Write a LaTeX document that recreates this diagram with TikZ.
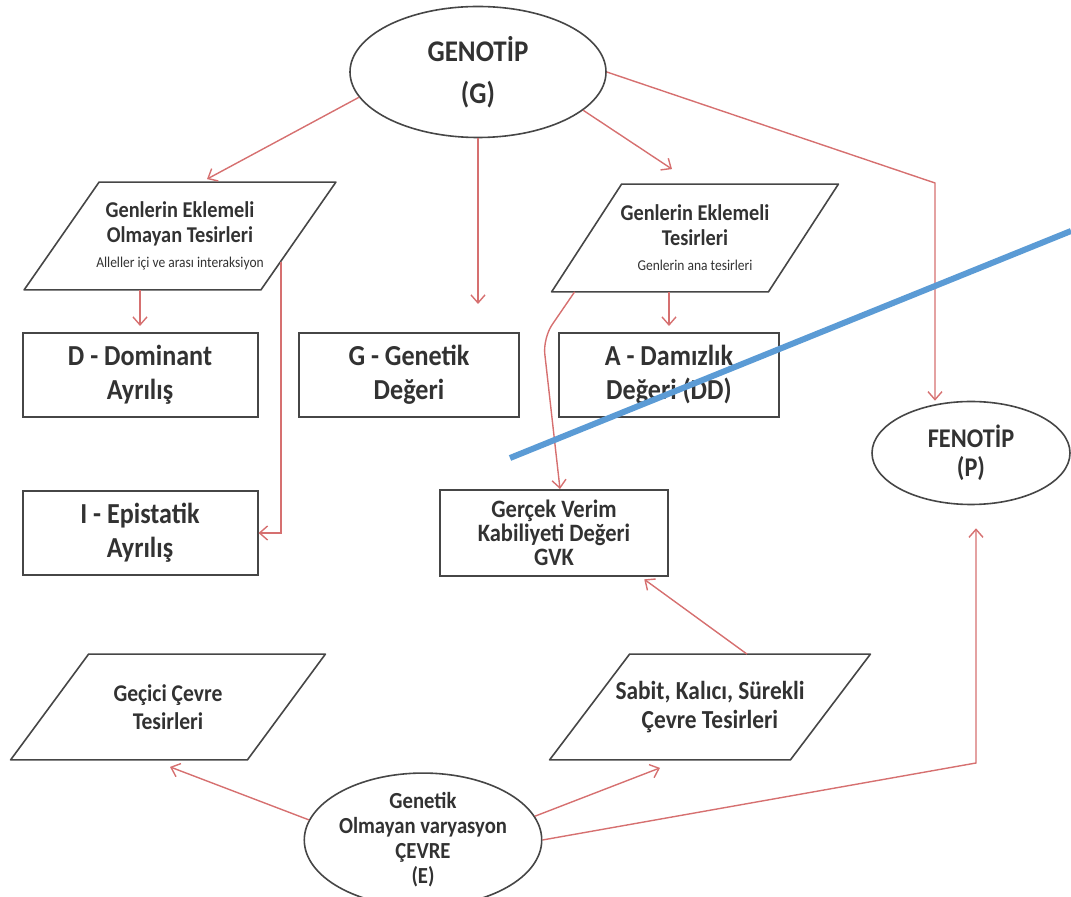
\documentclass[tikz,border=0pt]{standalone}
\usepackage{fontspec}
\setmainfont{Carlito}[FakeStretch=0.9]
\usetikzlibrary{shapes.geometric,arrows.meta}

\definecolor{linkred}{RGB}{214,112,112}
\definecolor{edgegray}{RGB}{70,70,70}
\definecolor{txtgray}{RGB}{50,50,50}
\definecolor{penblue}{RGB}{91,155,213}

\tikzset{
  ovalnode/.style={ellipse, draw=edgegray, line width=0.8pt, text=txtgray,
    align=center, inner sep=0pt, font=\bfseries},
  boxnode/.style={rectangle, draw=edgegray, line width=1pt, text=txtgray,
    align=center, font=\bfseries\fontsize{14.5}{17}\selectfont},
  slantnode/.style={rectangle, text=txtgray, align=center,
    minimum width=#1, minimum height=53.5pt, inner sep=1pt},
  slantline/.style={draw=edgegray, line width=0.8pt, line join=round},
  link/.style={draw=linkred, line width=0.7pt, -{Straight Barb[length=4pt,width=7pt]}},
  penline/.style={draw=penblue, line width=3pt}
}
% slanted frame round a node: #1 node name, #2 horizontal offset
\newcommand\slantframe[2]{%
  \draw[slantline] ([xshift=#2]#1.north west) -- (#1.north east)
    -- ([xshift=-#2]#1.south east) -- (#1.south west) -- cycle;}

\begin{document}
\begin{tikzpicture}[x=0.5pt, y=-0.5pt]
  \useasboundingbox (0,0) rectangle (1071,897);

  % ovals
  \node[ovalnode, minimum width=128pt, minimum height=65.5pt,
    font=\bfseries\fontsize{15}{21}\selectfont] (gen) at (478,72) {GENOTİP\\(G)};
  \node[ovalnode, minimum width=99pt, minimum height=51.5pt,
    font=\bfseries\fontsize{13.5}{14.5}\selectfont] (fen) at (971,453) {FENOTİP\\(P)};
  \node[ovalnode, minimum width=106.5pt, minimum height=50pt,
    font=\bfseries\fontsize{11.5}{12.5}\selectfont] (cevre) at (423,840)
    {Genetik\\Olmayan varyasyon\\ÇEVRE\\(E)};

  % parallelograms
  \node[slantnode=155.5pt, font=\bfseries\fontsize{11.3}{12.5}\selectfont] (lpar) at (180,236)
    {Genlerin Eklemeli\\Olmayan Tesirleri\\{\mdseries\fontsize{7.5}{10}\selectfont Alleller içi ve arası interaksiyon}};
  \node[slantnode=143pt, font=\bfseries\fontsize{11.3}{12.5}\selectfont] (rpar) at (695,238)
    {Genlerin Eklemeli\\Tesirleri\\{\mdseries\fontsize{7.5}{10}\selectfont Genlerin ana tesirleri}};
  \node[slantnode=157pt, minimum height=52.5pt, font=\bfseries\fontsize{12}{14}\selectfont] (gecici) at (168,707)
    {Geçici Çevre\\Tesirleri};
  \node[slantnode=160pt, minimum height=52.5pt, font=\bfseries\fontsize{13}{14.5}\selectfont] (sabit) at (710,707)
    {Sabit, Kalıcı, Sürekli\\Çevre Tesirleri};
  \slantframe{lpar}{37.5pt}
  \slantframe{rpar}{35pt}
  \slantframe{gecici}{39pt}
  \slantframe{sabit}{40pt}

  % boxes
  \node[boxnode, minimum width=117.5pt, minimum height=42pt] (dbox) at (140,375) {D - Dominant\\Ayrılış};
  \node[boxnode, minimum width=110pt, minimum height=42pt] (gbox) at (409,375) {G - Genetik\\Değeri};
  \node[boxnode, minimum width=110pt, minimum height=42pt] (abox) at (669,375) {A - Damızlık\\Değeri (DD)};
  \node[boxnode, minimum width=117.5pt, minimum height=42pt] (ibox) at (140,533) {I - Epistatik\\Ayrılış};
  \node[boxnode, minimum width=114pt, minimum height=43pt,
    font=\bfseries\fontsize{12.5}{12}\selectfont] (gvk) at (554,533)
    {Gerçek Verim\\Kabiliyeti Değeri\\GVK};

  \coordinate (fenbend) at (935,183);
  \coordinate (fenbend2) at (976,763);
  \coordinate (gvkbend) at (543,338);

  % from genotype
  \draw[link] (gen.192) -- ([shift={(27,-3)}]lpar.north);
  \draw[link, shorten >=14pt] (gen.south) -- (gen.south |- gbox.north);
  \draw[link] (gen.-20) -- ([shift={(-23,-15)}]rpar.north);
  \draw[link] (gen.east) -- (fenbend) -- (fenbend |- fen.north);

  \draw[link, shorten >=3pt] (lpar.south -| dbox.north) -- (dbox.north);
  \draw[link] ([shift={(-55,-28)}]lpar.south east) |- (ibox.east);
  \draw[link, shorten >=3pt] (abox.north |- rpar.south) -- (abox.north);
  \draw[link, rounded corners=8pt] ([xshift=11.5pt]rpar.south west) -- (gvkbend)
    -- ([xshift=3pt]gvk.north);

  % from environment
  \draw[link] (cevre.170) -- ([shift={(2,7)}]gecici.south);
  \draw[link] (cevre.12) -- ([shift={(-50,8)}]sabit.south);
  \draw[link, shorten >=11.5pt] (cevre.east) -- (fenbend2) -- (fenbend2 |- fen.south);
  \draw[link, shorten >=2pt] ([xshift=18.5pt]sabit.north) -- ([xshift=-14pt]gvk.south east);

  % pen stroke
  \coordinate (penA) at (510,458);
  \coordinate (penB) at (1071,231);
  \draw[penline] (penA) -- (penB);
\end{tikzpicture}
\end{document}
